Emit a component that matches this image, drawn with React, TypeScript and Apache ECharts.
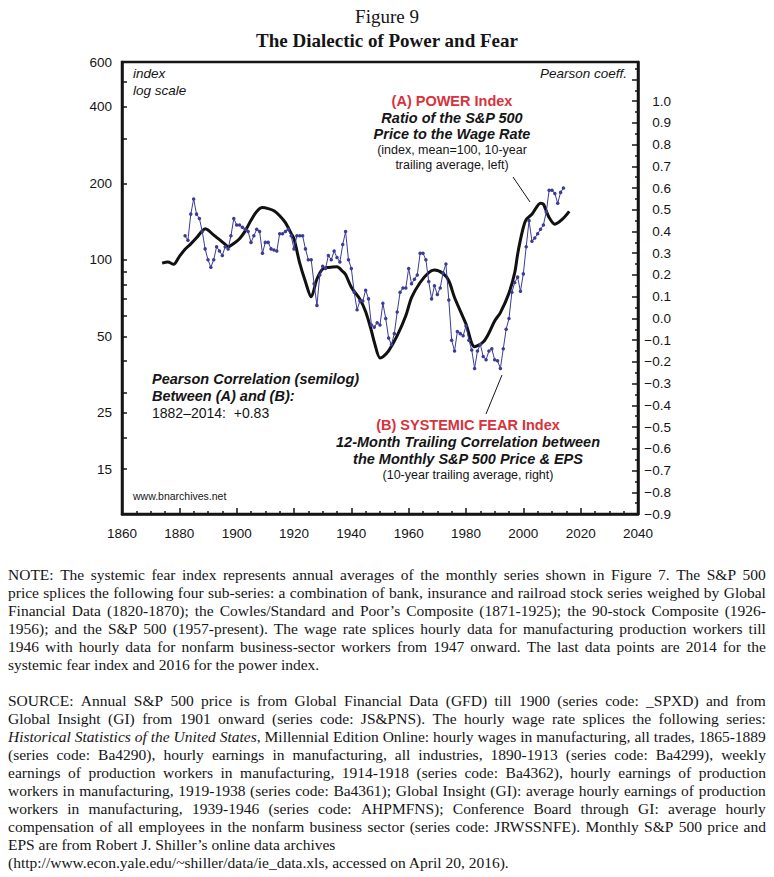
import React, { useEffect, useRef } from "react";
import * as echarts from "echarts";

// ---------- DATA ----------
// (A) Power index, 10-year trailing average (left axis, log scale)
const powerYears = [1874, 1876, 1878, 1880, 1882, 1884, 1886, 1888, 1889, 1890, 1892, 1894, 1896, 1897, 1899, 1901, 1903, 1905, 1907, 1909, 1911, 1913, 1915, 1917, 1919, 1920, 1922, 1924, 1926, 1928, 1930, 1932, 1935, 1937, 1938, 1940, 1943, 1945, 1947, 1948, 1950, 1951, 1953, 1956, 1959, 1961, 1964, 1967, 1969, 1972, 1974, 1976, 1980, 1983, 1986, 1988, 1990, 1992, 1995, 1997, 1998, 1999, 2000, 2001, 2003, 2006, 2007, 2009, 2011, 2014, 2016];
const powerValues = [97, 98, 96, 103, 110, 115.5, 122, 130, 132.5, 131, 125, 120, 115, 112.5, 116, 121, 130, 143, 155, 160.5, 159, 156, 149, 140, 127, 121, 97, 82, 71.5, 84, 92, 93.3, 93.9, 90, 87.5, 78, 70, 62.5, 52.6, 47.5, 41.1, 41.5, 43.8, 50.3, 60.2, 71, 81.4, 89.1, 91.1, 88.3, 82.7, 71.1, 55.9, 45.5, 47.5, 51.5, 57.5, 62, 74, 89, 105, 120, 134, 144, 151, 167, 165.6, 146.6, 138.1, 145.8, 155];

// (B) Systemic fear index, annual (right axis), 1882-2014
const fearFirstYear = 1882;
const fearValues = [
  0.38, 0.36, 0.48, 0.55, 0.48, 0.46, 0.40, 0.32, 0.27, 0.235,
  0.27, 0.33, 0.31, 0.29, 0.33, 0.32, 0.38, 0.46, 0.43, 0.43,
  0.42, 0.41, 0.40, 0.35, 0.38, 0.41, 0.40, 0.30, 0.35, 0.35,
  0.32, 0.315, 0.31, 0.39, 0.39, 0.40, 0.41, 0.38, 0.32, 0.38,
  0.38, 0.38, 0.32, 0.27, 0.27, 0.16, 0.06, 0.20, 0.24, 0.23,
  0.29, 0.27, 0.31, 0.28, 0.26, 0.34, 0.40, 0.27, 0.23, 0.12,
  0.04, 0.08, 0.08, 0.13, 0.09, -0.03, -0.04, -0.02, -0.03, 0.07,
  0.00, -0.09, -0.12, -0.07, 0.03, 0.12, 0.14, 0.14, 0.23, 0.16,
  0.18, 0.20, 0.30, 0.30, 0.27, 0.17, 0.09, 0.15, 0.11, 0.14,
  0.21, 0.25, 0.085, -0.10, -0.15, -0.06, -0.07, -0.08, -0.035, -0.10,
  -0.145, -0.23, -0.15, -0.12, -0.175, -0.19, -0.15, -0.14, -0.19, -0.195,
  -0.23, -0.14, -0.05, 0.00, 0.12, 0.165, 0.19, 0.125, 0.205, 0.33,
  0.45, 0.355, 0.37, 0.39, 0.41, 0.43, 0.49, 0.59, 0.59, 0.575,
  0.53, 0.58, 0.60,
];

// Axis ticks
const leftTickLabels = [15, 25, 50, 100, 200, 400, 600];
const leftTickMarks = [15, 20, 25, 30, 40, 50, 60, 70, 80, 90, 100, 200, 300, 400, 500, 600];
const leftMin = 10;
const leftMax = 600;
const rightMin = -0.9;
const rightMax = 1.18;
const rightLabelMax = 1.0;
const xMin = 1860;
const xMax = 2040;

// ---------- TEXT ----------
const noteLines = [
  "NOTE: The systemic fear index represents annual averages of the monthly series shown in Figure 7. The S&P 500",
  "price splices the following four sub-series: a combination of bank, insurance and railroad stock series weighed by Global",
  "Financial Data (1820-1870); the Cowles/Standard and Poor\u2019s Composite (1871-1925); the 90-stock Composite (1926-",
  "1956); and the S&P 500 (1957-present). The wage rate splices hourly data for manufacturing production workers till",
  "1946 with hourly data for nonfarm business-sector workers from 1947 onward. The last data points are 2014 for the",
  "systemic fear index and 2016 for the power index.",
];
const sourceLines = [
  "SOURCE: Annual S&P 500 price is from Global Financial Data (GFD) till 1900 (series code: _SPXD) and from",
  "Global Insight (GI) from 1901 onward (series code: JS&PNS). The hourly wage rate splices the following series:",
  "Historical Statistics of the United States, Millennial Edition Online: hourly wages in manufacturing, all trades, 1865-1889",
  "(series code: Ba4290), hourly earnings in manufacturing, all industries, 1890-1913 (series code: Ba4299), weekly",
  "earnings of production workers in manufacturing, 1914-1918 (series code: Ba4362), hourly earnings of production",
  "workers in manufacturing, 1919-1938 (series code: Ba4361); Global Insight (GI): average hourly earnings of production",
  "workers in manufacturing, 1939-1946 (series code: AHPMFNS); Conference Board through GI: average hourly",
  "compensation of all employees in the nonfarm business sector (series code: JRWSSNFE). Monthly S&P 500 price and",
  "EPS are from Robert J. Shiller\u2019s online data archives",
  "(http://www.econ.yale.edu/~shiller/data/ie_data.xls, accessed on April 20, 2016).",
];
const italicPhrase = "Historical Statistics of the United States";

const SANS = '"Liberation Sans", Arial, Helvetica, sans-serif';
const SERIF = '"Liberation Serif", "Times New Roman", serif';
const INK = "#151515";
const RED = "#d8323c";
const BLUE = "#3c3c98";

if (typeof document !== "undefined") document.body.style.margin = "0";

function txt(text: string, x: number, y: number, o: any = {}) {
  const align = o.align || "left";
  return {
    type: "text",
    x,
    y,
    silent: true,
    z: 100,
    style: {
      text,
      fill: o.fill || INK,
      fontSize: o.size || 13.5,
      fontFamily: o.family || SANS,
      fontWeight: o.weight || "normal",
      fontStyle: o.style || "normal",
      align,
      verticalAlign: "middle",
      textAlign: align,
      textVerticalAlign: "middle",
    },
  };
}

function ln(x1: number, y1: number, x2: number, y2: number) {
  return { type: "line", silent: true, z: 100, shape: { x1, y1, x2, y2 }, style: { stroke: INK, lineWidth: 1 } };
}

const CHART_H = 556;
const axisLineStyle = { color: INK, width: 2.5 };

function buildOption() {
  const powerData = powerYears.map((yr, i) => [yr, Math.log10(powerValues[i])]);
  const fearData = fearValues.map((v, i) => [fearFirstYear + i, v]);
  const bi = { weight: "bold", style: "italic", size: 14.5 };
  return {
    animation: false,
    backgroundColor: "#fff",
    grid: {
      left: 122,
      right: 774 - 638,
      top: 62,
      bottom: CHART_H - 514,
      show: true,
      borderColor: INK,
      borderWidth: 2.5,
      backgroundColor: "transparent",
    },
    xAxis: {
      type: "value",
      min: xMin,
      max: xMax,
      interval: 20,
      axisLine: { show: true, onZero: false, lineStyle: axisLineStyle },
      axisTick: { show: true, inside: true, length: 6, lineStyle: { color: INK, width: 1.5 } },
      minorTick: { show: true, splitNumber: 4, length: 3, lineStyle: { color: INK, width: 1.5 } },
      axisLabel: {
        margin: 12,
        fontSize: 13.5,
        fontFamily: SANS,
        color: INK,
        showMinLabel: true,
        showMaxLabel: true,
        formatter: (v: number) => String(Math.round(v)),
      },
      splitLine: { show: false },
      minorSplitLine: { show: false },
    },
    yAxis: [
      {
        type: "value",
        position: "left",
        min: Math.log10(leftMin),
        max: Math.log10(leftMax),
        axisLine: { show: true, onZero: false, lineStyle: axisLineStyle },
        axisTick: {
          show: true,
          inside: true,
          length: 5,
          customValues: leftTickMarks.map((v) => Math.log10(v)),
          lineStyle: { color: INK, width: 1.5 },
        },
        axisLabel: {
          customValues: leftTickLabels.map((v) => Math.log10(v)),
          formatter: (v: number) => String(Math.round(Math.pow(10, v))),
          margin: 10,
          fontSize: 13.5,
          fontFamily: SANS,
          color: INK,
        },
        splitLine: { show: false },
      },
      {
        type: "value",
        position: "right",
        min: rightMin,
        max: rightMax,
        interval: 0.1,
        axisLine: { show: true, onZero: false, lineStyle: axisLineStyle },
        axisTick: { show: true, inside: true, length: 6, lineStyle: { color: INK, width: 1.5 } },
        minorTick: { show: true, splitNumber: 2, length: 3, lineStyle: { color: INK, width: 1.5 } },
        axisLabel: {
          margin: 33,
          align: "right",
          fontSize: 13.5,
          fontFamily: SANS,
          color: INK,
          showMinLabel: true,
          showMaxLabel: true,
          formatter: (v: number) => {
            const r = Math.round(v * 10) / 10;
            if (r > rightLabelMax + 1e-9 || Math.abs(v - r) > 1e-6) return "";
            if (r < 0) return "\u2212" + Math.abs(r).toFixed(1);
            return Math.abs(r).toFixed(1);
          },
        },
        splitLine: { show: false },
        minorSplitLine: { show: false },
      },
    ],
    series: [
      {
        name: "Power index",
        type: "line",
        yAxisIndex: 0,
        data: powerData,
        showSymbol: false,
        smooth: 0.3,
        lineStyle: { color: "#111", width: 3 },
        z: 2,
      },
      {
        name: "Systemic fear index",
        type: "line",
        yAxisIndex: 1,
        data: fearData,
        symbol: "circle",
        symbolSize: 3.5,
        lineStyle: { color: BLUE, width: 1 },
        itemStyle: { color: BLUE },
        z: 3,
      },
    ],
    graphic: [
      txt("Figure 9", 387, 16, { align: "center", size: 19, family: SERIF }),
      txt("The Dialectic of Power and Fear", 387, 40, { align: "center", size: 19, family: SERIF, weight: "bold" }),
      txt("index", 133, 73, { style: "italic", size: 13.5 }),
      txt("log scale", 133, 90, { style: "italic", size: 13.5 }),
      txt("Pearson coeff.", 627, 73, { style: "italic", size: 13.5, align: "right" }),
      txt("(A) POWER Index", 452, 101, { align: "center", weight: "bold", size: 14.5, fill: RED }),
      txt("Ratio of the S&P 500", 452, 118, { align: "center", ...bi }),
      txt("Price to the Wage Rate", 452, 134, { align: "center", ...bi }),
      txt("(index, mean=100, 10-year", 452, 150, { align: "center", size: 12.5 }),
      txt("trailing average, left)", 452, 165, { align: "center", size: 12.5 }),
      ln(513, 177, 530, 202),
      txt("Pearson Correlation (semilog)", 152, 379, bi),
      txt("Between (A) and (B):", 152, 396, bi),
      txt("1882\u20132014:  +0.83", 152, 413, { size: 14 }),
      txt("(B) SYSTEMIC FEAR Index", 468, 425, { align: "center", weight: "bold", size: 14.5, fill: RED }),
      txt("12-Month Trailing Correlation between", 468, 442, { align: "center", ...bi }),
      txt("the Monthly S&P 500 Price & EPS", 468, 459, { align: "center", ...bi }),
      txt("(10-year trailing average, right)", 468, 475, { align: "center", size: 12.5 }),
      ln(486, 414, 502, 375),
      txt("www.bnarchives.net", 133, 496, { size: 10.5 }),
    ],
  };
}

const italicWordCount = italicPhrase.split(" ").length;

function Line({ text, top, justify }: { text: string; top: number; justify: boolean }) {
  const words = text.split(" ");
  const italic = text.startsWith(italicPhrase);
  const renderWord = (w: string, i: number) => {
    if (italic && i < italicWordCount) {
      const m = w.match(/^(.*?)([,.;:]?)$/);
      const core = m ? m[1] : w;
      const punct = m ? m[2] : "";
      return (
        <span key={i}>
          <i>{core}</i>
          {punct}
        </span>
      );
    }
    return <span key={i}>{w}</span>;
  };
  const base: React.CSSProperties = {
    position: "absolute",
    left: 8,
    width: 758,
    top,
    height: 18,
    lineHeight: "18px",
    fontFamily: SERIF,
    fontSize: 15.5,
    color: INK,
    whiteSpace: "nowrap",
  };
  if (justify) {
    return (
      <div style={{ ...base, display: "flex", justifyContent: "space-between", columnGap: 2 }}>
        {words.map(renderWord)}
      </div>
    );
  }
  return (
    <div style={base}>
      {words.map((w, i) => (
        <React.Fragment key={i}>
          {i > 0 ? " " : ""}
          {renderWord(w, i)}
        </React.Fragment>
      ))}
    </div>
  );
}

export default function App() {
  const ref = useRef<HTMLDivElement>(null);
  useEffect(() => {
    document.body.style.margin = "0";
    const chart = echarts.init(ref.current as HTMLDivElement, null, { renderer: "svg" });
    chart.setOption(buildOption() as any);
    return () => chart.dispose();
  }, []);
  return (
    <div style={{ position: "relative", width: 774, height: 877, background: "#fff", overflow: "hidden" }}>
      <div ref={ref} style={{ position: "absolute", left: 0, top: 0, width: 774, height: CHART_H }} />
      {noteLines.map((t, i) => (
        <Line key={"n" + i} text={t} top={566 + i * 18} justify={i < noteLines.length - 1} />
      ))}
      {sourceLines.map((t, i) => (
        <Line key={"s" + i} text={t} top={692 + i * 17.95} justify={i < sourceLines.length - 2} />
      ))}
    </div>
  );
}
